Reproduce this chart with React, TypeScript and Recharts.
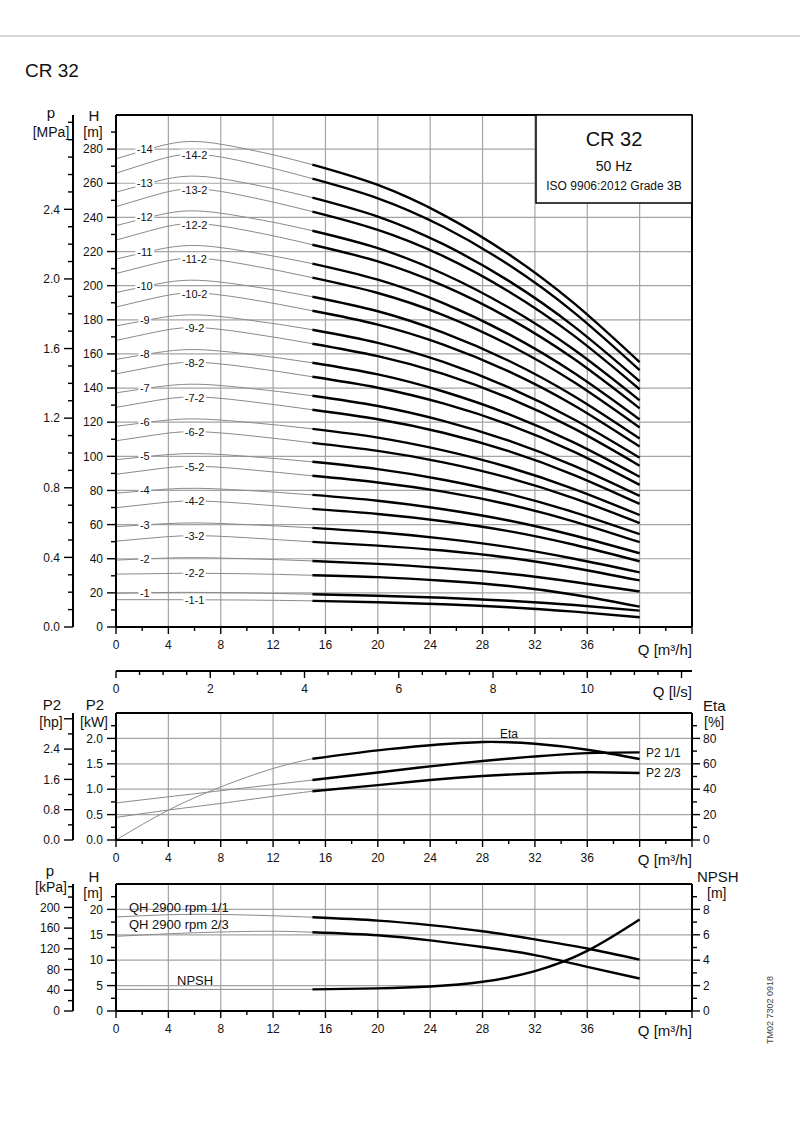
import React from 'react';
import { LineChart, Line, XAxis, YAxis, ReferenceLine, ReferenceDot } from 'recharts';

const FONT = '"Liberation Sans", Arial, Helvetica, sans-serif';
const GRID = '#a4a4a4';
const THIN = '#8a8a8a';

// ---- top chart: QH curves for every stage variant (H in m) ----
const qPts = [0, 2.5, 5, 7.5, 10, 12.5, 15, 20, 25, 30, 35, 40];
const h1_1 = [16.0, 16.0, 16.0, 15.9, 15.8, 15.6, 15.3, 14.5, 13.3, 11.6, 9.0, 5.7];
const h1 = [19.8, 20.1, 20.3, 20.2, 20.0, 19.6, 19.2, 18.3, 17.1, 15.4, 12.9, 9.6];
const h2_2 = [31.0, 31.2, 31.5, 31.4, 31.2, 30.8, 30.3, 29.2, 27.1, 24.0, 18.9, 11.9];
const h2 = [39.2, 40.0, 40.6, 40.5, 40.0, 39.4, 38.7, 37.0, 34.5, 31.2, 26.4, 20.8];
const h3_2 = [50.3, 52.0, 53.4, 53.3, 52.3, 51.1, 49.9, 47.7, 44.8, 40.6, 34.6, 27.3];
const h3 = [58.8, 60.0, 60.9, 60.8, 60.0, 59.1, 58.1, 55.5, 51.8, 46.8, 40.0, 32.0];
const h4_2 = [69.9, 72.0, 73.7, 73.5, 72.3, 70.8, 69.2, 66.2, 62.0, 56.2, 48.2, 38.5];
const h4 = [78.4, 80.0, 81.2, 81.0, 80.0, 78.8, 77.4, 74.0, 69.0, 62.4, 53.6, 43.2];
const h5_2 = [89.5, 92.0, 94.0, 93.8, 92.3, 90.5, 88.6, 84.7, 79.3, 71.8, 61.8, 49.7];
const h5 = [98.0, 100.0, 101.5, 101.3, 100.0, 98.5, 96.8, 92.5, 86.3, 78.0, 67.2, 54.4];
const h6_2 = [109.1, 112.0, 114.3, 114.0, 112.3, 110.2, 107.9, 103.2, 96.5, 87.4, 75.4, 60.9];
const h6 = [117.6, 120.0, 121.8, 121.5, 120.0, 118.2, 116.1, 111.0, 103.5, 93.6, 80.8, 65.6];
const h7_2 = [128.7, 132.0, 134.6, 134.3, 132.3, 129.9, 127.3, 121.7, 113.8, 103.0, 89.0, 72.1];
const h7 = [137.2, 140.0, 142.1, 141.8, 140.0, 137.9, 135.5, 129.5, 120.8, 109.2, 94.4, 76.8];
const h8_2 = [148.3, 152.0, 154.9, 154.5, 152.3, 149.6, 146.6, 140.2, 131.0, 118.6, 102.6, 83.3];
const h8 = [156.8, 160.0, 162.4, 162.0, 160.0, 157.6, 154.8, 148.0, 138.0, 124.8, 108.0, 88.0];
const h9_2 = [167.9, 172.0, 175.2, 174.8, 172.3, 169.3, 166.0, 158.7, 148.3, 134.2, 116.2, 94.5];
const h9 = [176.4, 180.0, 182.7, 182.3, 180.0, 177.3, 174.2, 166.5, 155.3, 140.4, 121.6, 99.2];
const h10_2 = [187.5, 192.0, 195.5, 195.0, 192.3, 189.0, 185.3, 177.2, 165.5, 149.8, 129.8, 105.7];
const h10 = [196.0, 200.0, 203.0, 202.5, 200.0, 197.0, 193.5, 185.0, 172.5, 156.0, 135.2, 110.4];
const h11_2 = [207.1, 212.0, 215.8, 215.3, 212.3, 208.7, 204.7, 195.7, 182.8, 165.4, 143.4, 116.9];
const h11 = [215.6, 220.0, 223.3, 222.8, 220.0, 216.7, 212.9, 203.5, 189.8, 171.6, 148.8, 121.6];
const h12_2 = [226.7, 232.0, 236.1, 235.5, 232.3, 228.4, 224.0, 214.2, 200.0, 181.0, 157.0, 128.1];
const h12 = [235.2, 240.0, 243.6, 243.0, 240.0, 236.4, 232.2, 222.0, 207.0, 187.2, 162.4, 132.8];
const h13_2 = [246.3, 252.0, 256.4, 255.8, 252.3, 248.1, 243.4, 232.7, 217.3, 196.6, 170.6, 139.3];
const h13 = [254.8, 260.0, 263.9, 263.3, 260.0, 256.1, 251.6, 240.5, 224.3, 202.8, 176.0, 144.0];
const h14_2 = [265.9, 272.0, 276.7, 276.0, 272.3, 267.8, 262.7, 251.2, 234.5, 212.2, 184.2, 150.5];
const h14 = [274.4, 280.0, 284.2, 283.5, 280.0, 275.8, 270.9, 259.0, 241.5, 218.4, 189.6, 155.2];

const topCurves: { name: string; h: number[]; reduced: boolean }[] = [
  { name: '-1-1', h: h1_1, reduced: true },
  { name: '-1', h: h1, reduced: false },
  { name: '-2-2', h: h2_2, reduced: true },
  { name: '-2', h: h2, reduced: false },
  { name: '-3-2', h: h3_2, reduced: true },
  { name: '-3', h: h3, reduced: false },
  { name: '-4-2', h: h4_2, reduced: true },
  { name: '-4', h: h4, reduced: false },
  { name: '-5-2', h: h5_2, reduced: true },
  { name: '-5', h: h5, reduced: false },
  { name: '-6-2', h: h6_2, reduced: true },
  { name: '-6', h: h6, reduced: false },
  { name: '-7-2', h: h7_2, reduced: true },
  { name: '-7', h: h7, reduced: false },
  { name: '-8-2', h: h8_2, reduced: true },
  { name: '-8', h: h8, reduced: false },
  { name: '-9-2', h: h9_2, reduced: true },
  { name: '-9', h: h9, reduced: false },
  { name: '-10-2', h: h10_2, reduced: true },
  { name: '-10', h: h10, reduced: false },
  { name: '-11-2', h: h11_2, reduced: true },
  { name: '-11', h: h11, reduced: false },
  { name: '-12-2', h: h12_2, reduced: true },
  { name: '-12', h: h12, reduced: false },
  { name: '-13-2', h: h13_2, reduced: true },
  { name: '-13', h: h13, reduced: false },
  { name: '-14-2', h: h14_2, reduced: true },
  { name: '-14', h: h14, reduced: false },
];

// ---- middle chart: power and efficiency ----
const qLow = [0, 4, 8, 12, 15];
const qHigh = [15, 20, 24, 28, 32, 36, 40];
const etaLow = [0, 23.5, 41.8, 56.3, 64.0];
const etaHigh = [64.0, 70.6, 74.6, 77.2, 75.8, 71.1, 63.8];
const p2FullLow = [0.73, 0.85, 0.97, 1.09, 1.18];
const p2FullHigh = [1.18, 1.33, 1.45, 1.555, 1.645, 1.71, 1.725];
const p2RedLow = [0.445, 0.59, 0.72, 0.86, 0.96];
const p2RedHigh = [0.96, 1.08, 1.18, 1.26, 1.31, 1.333, 1.32];

// ---- bottom chart: single stage QH and NPSH ----
const qh1Low = [18.5, 18.95, 19.0, 18.75, 18.45];
const qh1High = [18.45, 17.8, 16.9, 15.7, 14.1, 12.3, 10.1];
const qh23Low = [14.7, 15.2, 15.55, 15.7, 15.5];
const qh23High = [15.5, 14.9, 13.9, 12.6, 11.0, 8.7, 6.4];
const npshLow = [1.7, 1.7, 1.7, 1.7, 1.7];
const npshHigh = [1.7, 1.78, 1.93, 2.3, 3.14, 4.73, 7.2];

// ---- ticks ----
const qTicks = [0, 2, 4, 6, 8, 10, 12, 14, 16, 18, 20, 22, 24, 26, 28, 30, 32, 34, 36, 38, 40, 42, 44];
const qGrid = [4, 8, 12, 16, 20, 24, 28, 32, 36, 40];
const lsTicks = [0, 0.5, 1, 1.5, 2, 2.5, 3, 3.5, 4, 4.5, 5, 5.5, 6, 6.5, 7, 7.5, 8, 8.5, 9, 9.5, 10, 10.5, 11, 11.5, 12];
const hTicks = [0, 10, 20, 30, 40, 50, 60, 70, 80, 90, 100, 110, 120, 130, 140, 150, 160, 170, 180, 190, 200, 210, 220, 230, 240, 250, 260, 270, 280, 290];
const hGrid = [20, 40, 60, 80, 100, 120, 140, 160, 180, 200, 220, 240, 260, 280];
const mpaTicks = [0, 0.1, 0.2, 0.3, 0.4, 0.5, 0.6, 0.7, 0.8, 0.9, 1.0, 1.1, 1.2, 1.3, 1.4, 1.5, 1.6, 1.7, 1.8, 1.9, 2.0, 2.1, 2.2, 2.3, 2.4, 2.5, 2.6, 2.7, 2.8, 2.9];
const kwTicks = [0, 0.25, 0.5, 0.75, 1.0, 1.25, 1.5, 1.75, 2.0, 2.25];
const kwGrid = [0.5, 1.0, 1.5, 2.0];
const hpTicks = [0, 0.4, 0.8, 1.2, 1.6, 2.0, 2.4, 2.8, 3.2];
const etaTicks = [0, 10, 20, 30, 40, 50, 60, 70, 80, 90];
const hsTicks = [0, 2.5, 5, 7.5, 10, 12.5, 15, 17.5, 20, 22.5];
const hsGrid = [5, 10, 15, 20];
const kpaTicks = [0, 20, 40, 60, 80, 100, 120, 140, 160, 180, 200, 220, 240];
const npshTicks = [0, 1, 2, 3, 4, 5, 6, 7, 8, 9];

const pts = (qs: number[], vs: number[]) => qs.map((q, i) => ({ q, v: vs[i] }));
const near = (v: number, step: number) => Math.abs(v / step - Math.round(v / step)) < 1e-6;

function leftTick(step: number, maxLabel: number, digits: number, extraMajor: number[] = []) {
  return (props: any) => {
    const { x, y, payload } = props;
    const v = payload.value as number;
    const labelled = near(v, step) && v <= maxLabel + 1e-9;
    const len = labelled || extraMajor.includes(v) ? 9 : 5;
    return (
      <g>
        <line x1={x - len} y1={y} x2={x} y2={y} stroke="#000" strokeWidth={1.4} />
        {labelled && (
          <text x={x - 13} y={y + 4.2} textAnchor="end" fontSize={12} fontFamily={FONT} fill="#111">
            {v.toFixed(digits)}
          </text>
        )}
      </g>
    );
  };
}

function rightTick(step: number, maxLabel: number) {
  return (props: any) => {
    const { x, y, payload } = props;
    const v = payload.value as number;
    const labelled = near(v, step) && v <= maxLabel;
    return (
      <g>
        <line x1={x} y1={y} x2={x + (labelled ? 8 : 5)} y2={y} stroke="#000" strokeWidth={1.4} />
        {labelled && (
          <text x={x + 11} y={y + 4.2} textAnchor="start" fontSize={12} fontFamily={FONT} fill="#111">
            {v}
          </text>
        )}
      </g>
    );
  };
}

function bottomTick(step: number, maxLabel: number) {
  return (props: any) => {
    const { x, y, payload } = props;
    const v = payload.value as number;
    const major = near(v, step);
    return (
      <g>
        <line x1={x} y1={y} x2={x} y2={y + (major ? 7 : 4)} stroke="#000" strokeWidth={1.4} />
        {major && v <= maxLabel + 1e-9 && (
          <text x={x} y={y + 22} textAnchor="middle" fontSize={12} fontFamily={FONT} fill="#111">
            {v}
          </text>
        )}
      </g>
    );
  };
}

const CurveTag = ({ cx, cy, text }: { cx: number; cy: number; text: string }) => {
  const digits = text.replace(/-/g, '').length;
  const dashes = text.length - digits;
  const w = digits * 6.1 + dashes * 3.7 + 3;
  return (
    <g>
      <rect x={cx - w / 2} y={cy - 6} width={w} height={12} fill="#fff" />
      <text x={cx} y={cy + 4} textAnchor="middle" fontSize={11} fontFamily={FONT} fill="#111">
        {text}
      </text>
    </g>
  );
};

const axisLine = { stroke: '#000', strokeWidth: 2 };

// axis ids are chosen so that the inner axis sorts first
const qAxisProps = {
  xAxisId: 'q',
  dataKey: 'q',
  type: 'number' as const,
  domain: [0, 44],
  ticks: qTicks,
  interval: 0,
  allowDataOverflow: true,
  tickSize: 0,
  tickMargin: 0,
  tickLine: false,
  axisLine,
  tick: bottomTick(4, 36),
};

// the l/s scale has no series of its own, so it reads its ticks as chart data
const lsRows = lsTicks.map((v) => ({ ls: v }));

const TopChart = () => (
  <LineChart width={800} height={705} data={lsRows} margin={{ top: 115, right: 108, bottom: 4, left: 23 }}>
    <XAxis {...qAxisProps} height={44} />
    <XAxis
      xAxisId="r_ls"
      dataKey="ls"
      type="number"
      domain={[0, 44 / 3.6]}
      ticks={lsTicks}
      interval={0}
      allowDataOverflow
      tickSize={0}
      tickMargin={0}
      tickLine={false}
      height={30}
      axisLine={axisLine}
      tick={bottomTick(2, 10)}
    />
    <YAxis
      yAxisId="h"
      type="number"
      domain={[0, 300]}
      ticks={hTicks}
      interval={0}
      allowDataOverflow
      width={43}
      tickSize={0}
      tickMargin={0}
      tickLine={false}
      axisLine={axisLine}
      tick={leftTick(20, 280, 0)}
    />
    <YAxis
      yAxisId="p"
      type="number"
      domain={[0, 300 * 0.00980665]}
      ticks={mpaTicks}
      interval={0}
      allowDataOverflow
      width={50}
      tickSize={0}
      tickMargin={0}
      tickLine={false}
      axisLine={axisLine}
      tick={leftTick(0.4, 2.4, 1)}
    />
    {qGrid.map((q) => (
      <ReferenceLine key={`vx${q}`} xAxisId="q" yAxisId="h" x={q} stroke={GRID} strokeWidth={1.2} />
    ))}
    {hGrid.map((h) => (
      <ReferenceLine key={`hy${h}`} xAxisId="q" yAxisId="h" y={h} stroke={GRID} strokeWidth={1.2} />
    ))}
    <ReferenceLine xAxisId="q" yAxisId="h" y={300} stroke="#000" strokeWidth={2} />
    <ReferenceLine xAxisId="q" yAxisId="h" x={44} stroke="#000" strokeWidth={2} />
    {topCurves.map((c) => (
      <Line
        key={`g${c.name}`}
        xAxisId="q"
        yAxisId="h"
        data={pts(qPts.slice(0, 7), c.h.slice(0, 7))}
        dataKey="v"
        type="natural"
        stroke={THIN}
        strokeWidth={1}
        dot={false}
        isAnimationActive={false}
      />
    ))}
    {topCurves.map((c) => (
      <Line
        key={`b${c.name}`}
        xAxisId="q"
        yAxisId="h"
        data={pts(qPts.slice(6), c.h.slice(6))}
        dataKey="v"
        type="natural"
        stroke="#000"
        strokeWidth={2.4}
        dot={false}
        isAnimationActive={false}
      />
    ))}
    {topCurves.map((c) => (
      <ReferenceDot
        key={`t${c.name}`}
        xAxisId="q"
        yAxisId="h"
        x={c.reduced ? 6 : 2.2}
        y={c.reduced ? (c.h[2] + c.h[3]) / 2 : c.h[1]}
        r={0}
        shape={(p: any) => <CurveTag cx={p.cx} cy={p.cy} text={c.name} />}
      />
    ))}
  </LineChart>
);

const thinLine = { type: 'natural' as const, stroke: THIN, strokeWidth: 1, dot: false, isAnimationActive: false, dataKey: 'v', xAxisId: 'q' };
const boldLine = { type: 'natural' as const, stroke: '#000', strokeWidth: 2.4, dot: false, isAnimationActive: false, dataKey: 'v', xAxisId: 'q' };

const MiddleChart = () => (
  <LineChart width={800} height={165} margin={{ top: 8, right: 68, bottom: 0, left: 23 }}>
    <XAxis {...qAxisProps} height={30} />
    <YAxis yAxisId="a_kw" type="number" domain={[0, 2.5]} ticks={kwTicks} interval={0} allowDataOverflow width={43}
      tickSize={0} tickMargin={0} tickLine={false} axisLine={axisLine} tick={leftTick(0.5, 2.0, 1)} />
    <YAxis yAxisId="b_hp" type="number" domain={[0, 2.5 / 0.7457]} ticks={hpTicks} interval={0} allowDataOverflow width={50}
      tickSize={0} tickMargin={0} tickLine={false} axisLine={axisLine} tick={leftTick(0.8, 2.4, 1, [3.2])} />
    <YAxis yAxisId="eta" orientation="right" type="number" domain={[0, 100]} ticks={etaTicks} interval={0} allowDataOverflow
      width={40} tickSize={0} tickMargin={0} tickLine={false} axisLine={axisLine} tick={rightTick(20, 80)} />
    {qGrid.map((q) => (
      <ReferenceLine key={`vx${q}`} xAxisId="q" yAxisId="a_kw" x={q} stroke={GRID} strokeWidth={1.2} />
    ))}
    {kwGrid.map((v) => (
      <ReferenceLine key={`hy${v}`} xAxisId="q" yAxisId="a_kw" y={v} stroke={GRID} strokeWidth={1.2} />
    ))}
    <ReferenceLine xAxisId="q" yAxisId="a_kw" y={2.5} stroke="#000" strokeWidth={2} />
    <Line {...thinLine} yAxisId="a_kw" data={pts(qLow, p2FullLow)} />
    <Line {...thinLine} yAxisId="a_kw" data={pts(qLow, p2RedLow)} />
    <Line {...thinLine} yAxisId="eta" data={pts(qLow, etaLow)} />
    <Line {...boldLine} yAxisId="a_kw" data={pts(qHigh, p2FullHigh)} />
    <Line {...boldLine} yAxisId="a_kw" data={pts(qHigh, p2RedHigh)} />
    <Line {...boldLine} yAxisId="eta" data={pts(qHigh, etaHigh)} />
  </LineChart>
);

const BottomChart = () => (
  <LineChart width={800} height={171} margin={{ top: 14, right: 68, bottom: 0, left: 23 }}>
    <XAxis {...qAxisProps} height={30} />
    <YAxis yAxisId="h" type="number" domain={[0, 25]} ticks={hsTicks} interval={0} allowDataOverflow width={43}
      tickSize={0} tickMargin={0} tickLine={false} axisLine={axisLine} tick={leftTick(5, 20, 0)} />
    <YAxis yAxisId="kpa" type="number" domain={[0, 25 * 9.80665]} ticks={kpaTicks} interval={0} allowDataOverflow width={50}
      tickSize={0} tickMargin={0} tickLine={false} axisLine={axisLine} tick={leftTick(40, 200, 0)} />
    <YAxis yAxisId="npsh" orientation="right" type="number" domain={[0, 10]} ticks={npshTicks} interval={0} allowDataOverflow
      width={40} tickSize={0} tickMargin={0} tickLine={false} axisLine={axisLine} tick={rightTick(2, 8)} />
    {qGrid.map((q) => (
      <ReferenceLine key={`vx${q}`} xAxisId="q" yAxisId="h" x={q} stroke={GRID} strokeWidth={1.2} />
    ))}
    {hsGrid.map((v) => (
      <ReferenceLine key={`hy${v}`} xAxisId="q" yAxisId="h" y={v} stroke={GRID} strokeWidth={1.2} />
    ))}
    <ReferenceLine xAxisId="q" yAxisId="h" y={25} stroke="#000" strokeWidth={2} />
    <Line {...thinLine} yAxisId="h" data={pts(qLow, qh1Low)} />
    <Line {...thinLine} yAxisId="h" data={pts(qLow, qh23Low)} />
    <Line {...thinLine} yAxisId="npsh" data={pts(qLow, npshLow)} />
    <Line {...boldLine} yAxisId="h" data={pts(qHigh, qh1High)} />
    <Line {...boldLine} yAxisId="h" data={pts(qHigh, qh23High)} />
    <Line {...boldLine} yAxisId="npsh" data={pts(qHigh, npshHigh)} />
  </LineChart>
);

const T = (p: { x: number; y: number; s?: number; a?: 'start' | 'middle' | 'end'; children: React.ReactNode }) => (
  <text x={p.x} y={p.y} fontSize={p.s ?? 14} textAnchor={p.a ?? 'middle'} fontFamily={FONT} fill="#111">
    {p.children}
  </text>
);

const Overlay = () => (
  <svg width={800} height={1144} style={{ position: 'absolute', left: 0, top: 0, pointerEvents: 'none' }}>
    <line x1={0} y1={36} x2={800} y2={36} stroke="#d6d6d6" strokeWidth={2} />
    <T x={25} y={77} s={19} a="start">CR 32</T>

    {/* info box */}
    <rect x={536} y={115} width={156} height={88} fill="#fff" stroke="#000" strokeWidth={1.5} />
    <T x={614} y={146} s={20}>CR 32</T>
    <T x={614} y={171} s={14}>50 Hz</T>
    <T x={614} y={190} s={12}>ISO 9906:2012 Grade 3B</T>

    {/* top chart units */}
    <T x={51} y={118} s={15}>p</T>
    <T x={51} y={137}>[MPa]</T>
    <T x={94} y={121} s={15}>H</T>
    <T x={93} y={137}>[m]</T>
    <T x={692} y={655} s={15} a="end">Q [m³/h]</T>
    <T x={692} y={697} s={15} a="end">Q [l/s]</T>

    {/* middle chart units and series names */}
    <T x={52} y={710} s={15}>P2</T>
    <T x={51} y={727}>[hp]</T>
    <T x={95} y={710} s={15}>P2</T>
    <T x={94} y={727}>[kW]</T>
    <T x={703} y={711} s={15} a="start">Eta</T>
    <T x={704} y={727} a="start">[%]</T>
    <T x={692} y={865} s={15} a="end">Q [m³/h]</T>
    <T x={500} y={738} s={12} a="start">Eta</T>
    <T x={646} y={757} s={12} a="start">P2 1/1</T>
    <T x={646} y={777} s={12} a="start">P2 2/3</T>

    {/* bottom chart units and series names */}
    <T x={50} y={876} s={15}>p</T>
    <T x={51} y={892}>[kPa]</T>
    <T x={94} y={882} s={15}>H</T>
    <T x={93} y={898}>[m]</T>
    <T x={697} y={882} s={15} a="start">NPSH</T>
    <T x={707} y={898} a="start">[m]</T>
    <T x={692} y={1036} s={15} a="end">Q [m³/h]</T>
    <T x={129} y={912} s={13} a="start">QH 2900 rpm 1/1</T>
    <T x={129} y={929} s={13} a="start">QH 2900 rpm 2/3</T>
    <T x={177} y={985} s={13} a="start">NPSH</T>

    <text x={0} y={0} transform="translate(773 1010) rotate(-90)" fontSize={9} textAnchor="middle" fontFamily={FONT} fill="#444">
      TM02 7302 0918
    </text>
  </svg>
);

export default function App() {
  return (
    <div style={{ position: 'absolute', left: 0, top: 0, width: 800, height: 1144, background: '#fff', fontFamily: FONT }}>
      <div style={{ position: 'absolute', left: 0, top: 0 }}>
        <TopChart />
      </div>
      <div style={{ position: 'absolute', left: 0, top: 705 }}>
        <MiddleChart />
      </div>
      <div style={{ position: 'absolute', left: 0, top: 870 }}>
        <BottomChart />
      </div>
      <Overlay />
    </div>
  );
}
